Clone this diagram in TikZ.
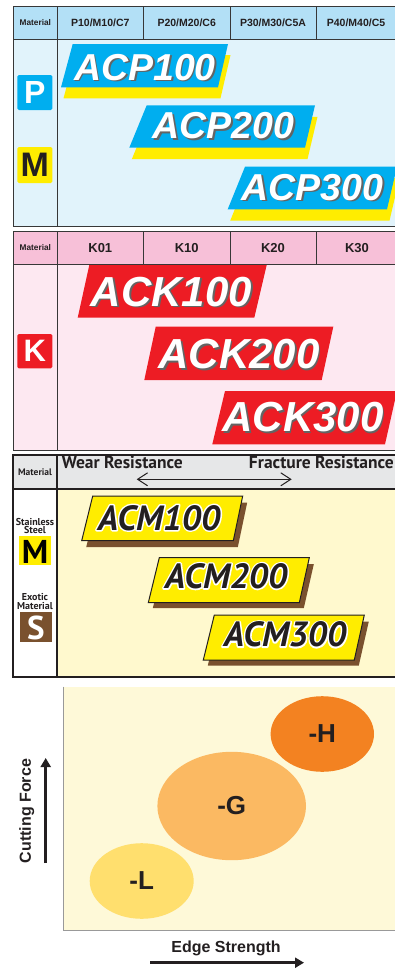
\documentclass[tikz,border=0pt]{standalone}
\usepackage{fontspec}
\setmainfont{Liberation Sans}
\newfontfamily\myr{PT Sans}
\usetikzlibrary{arrows.meta,calc}
\definecolor{hdrblue}{RGB}{179,224,246}
\definecolor{bodyblue}{RGB}{225,243,251}
\definecolor{cyanP}{RGB}{0,174,239}
\definecolor{yelP}{RGB}{255,237,0}
\definecolor{hdrpink}{RGB}{247,192,216}
\definecolor{bodypink}{RGB}{253,232,241}
\definecolor{redK}{RGB}{237,28,36}
\definecolor{hdrgray}{RGB}{230,231,232}
\definecolor{bodyyel}{RGB}{255,249,206}
\definecolor{brownS}{RGB}{122,81,46}
\definecolor{plotbg}{RGB}{254,249,216}
\definecolor{ellH}{RGB}{243,130,33}
\definecolor{ellG}{RGB}{251,185,98}
\definecolor{ellL}{RGB}{255,223,110}
\definecolor{shgray}{RGB}{100,100,100}
\definecolor{ink}{RGB}{35,31,32}
\definecolor{gridc}{RGB}{55,55,55}
\newcommand\shadowtxt[4]{%
  \node[#4, text=shgray] at ($(#2)+(1.8,1.8)$) {#3};
  \node[#4, text=white] (#1) at (#2) {#3};}
\newcommand\outlinetxt[4]{%
  \node[#4, text=white] at (#2) {\special{pdf:literal direct 1 Tr 3 w 1 j}#3\special{pdf:literal direct 0 Tr}};
  \node[#4, text=ink] (#1) at (#2) {#3};}
\begin{document}
\begin{tikzpicture}[x=1pt,y=-1pt,
  gridline/.style={draw=gridc, line width=0.8pt},
  boldline/.style={draw=ink, line width=1.8pt},
  hdr/.style={font=\fontsize{10.5}{12}\selectfont\bfseries, text=ink, inner sep=0},
  hdrk/.style={font=\fontsize{13}{14}\selectfont\bfseries, text=ink, inner sep=0},
  mat/.style={font=\fontsize{8.3}{9}\selectfont\bfseries, text=ink, inner sep=0},
  acp/.style={font=\fontsize{37.5}{37.5}\selectfont\bfseries\itshape, anchor=base, inner sep=0},
  ack/.style={font=\fontsize{42}{42}\selectfont\bfseries\itshape, anchor=base, inner sep=0},
  acm/.style={font=\myr\fontsize{35}{35}\selectfont\bfseries\itshape, anchor=base, inner sep=0},
  bigletter/.style={font=\fontsize{32}{32}\selectfont\bfseries, inner sep=0},
  myrsmall/.style={font=\myr\fontsize{10}{10}\selectfont\bfseries, text=ink, inner sep=0, align=center},
  myrhead/.style={font=\myr\fontsize{17.5}{18}\selectfont\bfseries, text=ink, inner sep=0},
  axlabel/.style={font=\fontsize{16}{16}\selectfont\bfseries, text=ink, inner sep=0},
  elabel/.style={font=\fontsize{26}{26}\selectfont\bfseries, text=ink, inner sep=0},
  axarrow/.style={draw=ink, line width=2.6pt, -{Triangle[length=9pt,width=10pt]}}
]
\useasboundingbox (0,0) rectangle (395,969);
\fill[white] (0,0) rectangle (395,969);

% ===== Section 1: P / M =====
\fill[hdrblue] (13.3,6.5) rectangle (396,39);
\fill[bodyblue] (13.3,39) rectangle (396,226);
\draw[gridline] (396,6.5) -- (13.3,6.5) -- (13.3,226) -- (396,226);
\draw[gridline] (13.3,39) -- (396,39);
\draw[gridline] (57.3,6.5) -- (57.3,226);
\foreach \x in {143.3,230,316} \draw[gridline] (\x,6.5) -- (\x,39);
\node[mat] (m1) at (35.3,23) {Material};
\node[hdr] (h11) at (100.3,23) {P10/M10/C7};
\node[hdr] (h12) at (186.7,23) {P20/M20/C6};
\node[hdr] (h13) at (273,23) {P30/M30/C5A};
\node[hdr] (h14) at (356,23) {P40/M40/C5};
\fill[cyanP, rounded corners=1.5pt] (17.3,75) rectangle (52.3,110);
\node[bigletter, text=white] (P) at (34.8,92.5) {P};
\fill[yelP, rounded corners=1.5pt] (17.3,147) rectangle (52.3,183);
\node[bigletter, text=ink, font=\fontsize{34}{34}\selectfont\bfseries] (M1) at (34.8,165) {M};
% ACP bars
\fill[yelP] (75.2,55) -- (230.5,55) -- (220.5,98.3) -- (63.5,98.3) -- cycle;
\fill[cyanP] (72.7,44) -- (228,44) -- (218,87.3) -- (61,87.3) -- cycle;
\fill[yelP] (149.2,116.8) -- (317.5,116.8) -- (307.5,159.2) -- (131.8,159.2) -- cycle;
\fill[cyanP] (146.7,105.3) -- (315,105.3) -- (305,147.7) -- (129.3,147.7) -- cycle;
\fill[yelP] (247.5,178) -- (399.5,178) -- (389.5,220.7) -- (230.2,220.7) -- cycle;
\fill[cyanP] (245,166.7) -- (397,166.7) -- (387,209.3) -- (227.7,209.3) -- cycle;
\shadowtxt{acp1}{145,80}{ACP100}{acp}
\shadowtxt{acp2}{223.3,138.3}{ACP200}{acp}
\shadowtxt{acp3}{312.5,200}{ACP300}{acp}

% ===== Section 2: K =====
\fill[hdrpink] (13.3,231.7) rectangle (396,264.3);
\fill[bodypink] (13.3,264.3) rectangle (396,450);
\draw[gridline] (396,231.7) -- (13.3,231.7) -- (13.3,450) -- (396,450);
\draw[gridline] (13.3,264.3) -- (396,264.3);
\draw[gridline] (57.3,231.7) -- (57.3,450);
\foreach \x in {143.3,230,316} \draw[gridline] (\x,231.7) -- (\x,264.3);
\node[mat] (m2) at (35.3,248) {Material};
\node[hdrk] (h21) at (100.3,248) {K01};
\node[hdrk] (h22) at (186.7,248) {K10};
\node[hdrk] (h23) at (273,248) {K20};
\node[hdrk] (h24) at (357,248) {K30};
\fill[redK, rounded corners=1.5pt] (17.3,334) rectangle (52.3,368.3);
\node[bigletter, text=white, font=\fontsize{31}{31}\selectfont\bfseries] (K) at (34.8,351.2) {K};
\fill[redK] (89.3,265) -- (266.7,265) -- (254.3,317.7) -- (77.7,317.7) -- cycle;
\fill[redK] (155.7,326.7) -- (333.3,326.7) -- (321.7,380) -- (144.3,380) -- cycle;
\fill[redK] (225,391) -- (397,391) -- (385,444.3) -- (212.3,444.3) -- cycle;
\shadowtxt{ack1}{171.5,306}{ACK100}{ack}
\shadowtxt{ack2}{239,368.3}{ACK200}{ack}
\shadowtxt{ack3}{303,431.7}{ACK300}{ack}

% ===== Section 3: M / S =====
\fill[hdrgray] (13.3,455) rectangle (396,489.3);
\fill[bodyyel] (56.7,489.3) rectangle (396,676.7);
\fill[white] (13.3,489.3) rectangle (56.7,676.7);
\draw[boldline] (396,455) -- (13.3,455) -- (13.3,676.7) -- (396,676.7);
\draw[boldline] (13.3,489.3) -- (396,489.3);
\draw[boldline] (56.7,455) -- (56.7,676.7);
\node[myrsmall, font=\myr\fontsize{9.5}{10}\selectfont\bfseries] (m3) at (35,472) {Material};
\node[myrhead, anchor=base west] (wear) at (61.7,468.3) {Wear Resistance};
\node[myrhead, anchor=base east] (frac) at (394,468.3) {Fracture Resistance};
\coordinate (arL) at (136.7,479.3);
\coordinate (arR) at (291.7,479.3);
\draw[draw=ink, line width=1pt, {Straight Barb[length=10pt,width=13pt]}-{Straight Barb[length=10pt,width=13pt]}] (arL) -- (arR);
\node[myrsmall] (ss) at (35,525.8) {Stainless\\[-1.5pt]Steel};
\fill[yelP] (19.3,536) rectangle (50.7,565);
\node[font=\myr\fontsize{33}{33}\selectfont\bfseries, text=black, inner sep=0] (M2) at (35,551.5) {M};
\node[myrsmall] (ex) at (35,601.7) {Exotic\\[-1.5pt]Material};
\fill[brownS] (20,611.7) rectangle (51.7,641.7);
\node[font=\myr\fontsize{33}{33}\selectfont\bfseries, text=white, inner sep=0] (S) at (35.8,627.5) {S};
% ACM bars
\fill[brownS] (97.2,502.5) -- (247.2,502.5) -- (237.8,547.2) -- (86.2,547.2) -- cycle;
\filldraw[fill=yelP, draw=ink, line width=1pt] (92.7,496) -- (242.7,496) -- (233.3,540.7) -- (81.7,540.7) -- cycle;
\fill[brownS] (163.8,564.2) -- (313.8,564.2) -- (303.8,608.2) -- (152.8,608.2) -- cycle;
\filldraw[fill=yelP, draw=ink, line width=1pt] (159.3,557.7) -- (309.3,557.7) -- (299.3,602.7) -- (148.3,602.7) -- cycle;
\fill[brownS] (218.8,621.5) -- (368.8,621.5) -- (358.8,665.5) -- (207.8,665.5) -- cycle;
\filldraw[fill=yelP, draw=ink, line width=1pt] (214.3,615) -- (364.3,615) -- (354.3,660) -- (203.3,660) -- cycle;
\outlinetxt{acm1}{159,530}{ACM100}{acm}
\outlinetxt{acm2}{226,588.3}{ACM200}{acm}
\outlinetxt{acm3}{285,646.7}{ACM300}{acm}

% ===== Section 4: chart =====
\fill[plotbg] (63.3,686.7) rectangle (396,930);
\draw[draw=gray!80, line width=0.8pt] (63.3,686.7) -- (63.3,930) -- (396,930);
\fill[ellH] (322.3,734) ellipse [x radius=51.7, y radius=37.8];
\fill[ellG] (231.7,806) ellipse [x radius=74.3, y radius=54.2];
\fill[ellL] (141.7,881) ellipse [x radius=52, y radius=37.8];
\node[elabel] (H) at (322.3,734) {-H};
\node[elabel] (G) at (231.7,806) {-G};
\node[elabel] (L) at (141.7,881) {-L};
\node[axlabel, rotate=90] (cf) at (26.7,811) {Cutting Force};
\coordinate (cfa) at (45.7,863);
\coordinate (cfb) at (45.7,758);
\draw[axarrow] (cfa) -- (cfb);
\node[axlabel] (es) at (226,948) {Edge Strength};
\coordinate (esa) at (150,962.7);
\coordinate (esb) at (304,962.7);
\draw[axarrow] (esa) -- (esb);
\end{tikzpicture}
\end{document}
